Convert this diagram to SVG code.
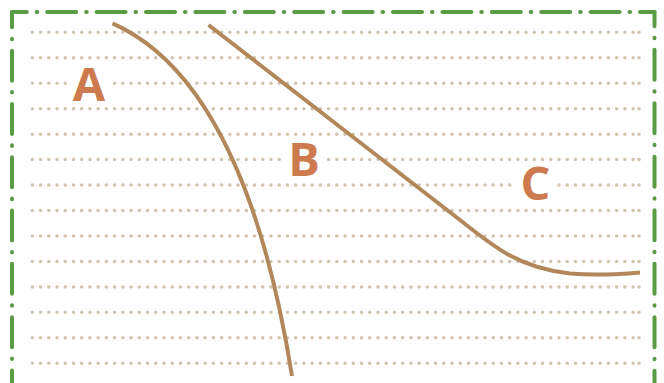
<svg xmlns="http://www.w3.org/2000/svg" width="664" height="383" viewBox="0 0 664 383">
  <defs>
    <style>
      .frame { fill: none; stroke: #5a9c45; stroke-width: 4; stroke-linecap: round; }
      .dots { fill: none; stroke: #d0c3b0; stroke-width: 3.5; stroke-linecap: round; stroke-dasharray: 0.01 8.22; }
      .curve { fill: none; stroke: #b2885a; stroke-width: 4; stroke-linecap: butt; }
      .bg { fill: #ffffff; }
      .lbl { font-family: "Open Sans", "Noto Sans", "DejaVu Sans", sans-serif; font-weight: bold; font-size: 47px; fill: #cc7a4e; text-anchor: middle; }
    </style>
  </defs>
  <rect width="664" height="383" fill="#ffffff"/>
  <g id="frame">
    <path class="frame" d="M12,12 H654.5" stroke-dasharray="29 9.9 0.6 9.9" stroke-dashoffset="14.2"/>
    <path class="frame" d="M12,12 V390" stroke-dasharray="30 11.35 0.6 11.35" stroke-dashoffset="14.65"/>
    <path class="frame" d="M654.5,12 V390" stroke-dasharray="30 11.45 0.6 11.45" stroke-dashoffset="15.75"/>
  </g>
  <g id="grid">
    <path class="dots" d="M32.3,32.3 H634 M639,32.3 h0.01
      M32.3,57.76 H634 M639,57.76 h0.01
      M32.3,83.22 H634 M639,83.22 h0.01
      M32.3,108.68 H634 M639,108.68 h0.01
      M32.3,134.14 H634 M639,134.14 h0.01
      M32.3,159.6 H634 M639,159.6 h0.01
      M32.3,185.06 H634 M639,185.06 h0.01
      M32.3,210.52 H634 M639,210.52 h0.01
      M32.3,235.98 H634 M639,235.98 h0.01
      M32.3,261.44 H634 M639,261.44 h0.01
      M32.3,286.9 H634 M639,286.9 h0.01
      M32.3,312.36 H634 M639,312.36 h0.01
      M32.3,337.82 H634 M639,337.82 h0.01
      M32.3,363.28 H634 M639,363.28 h0.01"/>
  </g>
  <g id="connectors">
    <path class="curve" d="M112.5,23.3 Q245,82 292,376"/>
    <path class="curve" d="M208.5,25 L460,220 C495,248 520,268 570,273.5 C600,276 620,274 640,272.5"/>
  </g>
  <g id="label-A">
    <rect class="bg" x="69" y="63" width="41" height="42"/>
    <text class="lbl" x="89" y="101">A</text>
  </g>
  <g id="label-B">
    <rect class="bg" x="284" y="138" width="40" height="42"/>
    <text class="lbl" x="304" y="176">B</text>
  </g>
  <g id="label-C">
    <rect class="bg" x="514" y="163" width="41" height="42"/>
    <text class="lbl" x="535.5" y="200">C</text>
  </g>
</svg>
